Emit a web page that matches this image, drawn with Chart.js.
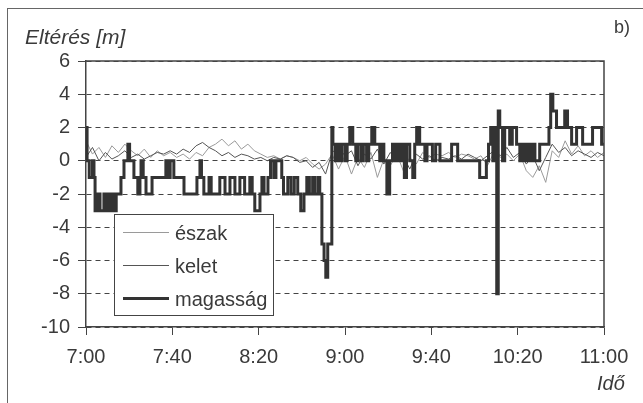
<!DOCTYPE html>
<html>
<head>
<meta charset="utf-8">
<script src="https://cdn.jsdelivr.net/npm/chart.js@4/dist/chart.umd.min.js"></script>
<style>
	body { margin: 0; background: #fff; }
	#wrap { position: relative; width: 643px; height: 403px; overflow: hidden; font-family: "Liberation Sans", Arial, sans-serif; color: #3a3a3a; }
	#frame { position: absolute; left: 7px; top: 8px; width: 700px; height: 420px; border-top: 1px solid #666; border-left: 1px solid #666; }
	.lbl { position: absolute; white-space: nowrap; line-height: 1; }
	#legend { position: absolute; left: 114px; top: 214px; width: 158px; height: 100px; border: 1px solid #444; background: #fff; }
	.row { position: absolute; left: 0; height: 24px; font-size: 20px; line-height: 24px; }
	.row span.ln { position: absolute; left: 8px; width: 46px; }
	.row span.tx { position: absolute; left: 60px; }
</style>
</head>
<body>
<div id="wrap">
	<div id="frame"></div>
	<canvas id="chart" width="643" height="403"></canvas>
	<div class="lbl" style="left:25px; top:26px; font-size:21px; font-style:italic;">Eltérés [m]</div>
	<div class="lbl" style="left:597px; top:373px; font-size:20px; font-style:italic;">Idő</div>
	<div class="lbl" style="left:614px; top:18px; font-size:18px;">b)</div>
	<div id="legend">
		<div class="row" style="top:6px;"><span class="ln" style="top:11px; border-top:1px solid #9a9a9a;"></span><span class="tx">észak</span></div>
		<div class="row" style="top:39px;"><span class="ln" style="top:11px; border-top:1px solid #555;"></span><span class="tx">kelet</span></div>
		<div class="row" style="top:72px;"><span class="ln" style="top:10px; border-top:3px solid #333;"></span><span class="tx">magasság</span></div>
	</div>
</div>
<script>
// minutes after 7:00
const thinTimes = [0, 3, 6, 9, 12, 15, 18, 21, 24, 27, 30, 33, 36, 39, 42, 45, 48, 51, 54, 57,
	60, 63, 66, 69, 72, 75, 78, 81, 84, 87, 90, 93, 96, 99, 102, 105, 108, 111, 114, 117,
	120, 123, 126, 129, 132, 135, 138, 141, 144, 147, 150, 153, 156, 159, 162, 165, 168, 171, 174, 177,
	180, 183, 186, 189, 192, 195, 198, 201, 204, 207, 210, 213, 216, 219, 222, 225, 228, 231, 234, 237, 240];

const eszak = [1.2, 0.4, 0.8, 0.2, 0.9, 0.5, 1.0, 0.6, 0.3, 0.7, 0.2, 0.6, 0.3, 0.5, 0.2, 0.4, 0.1, 0.5, 0.3, 0.8,
	1.0, 1.3, 0.9, 1.2, 0.7, 1.0, 0.6, 0.4, 0.2, 0.3, 0.1, 0.3, 0.2, 0.0, 0.2, -0.2, -0.5, -0.2, 0.4, -0.5,
	0.3, -0.8, 0.2, -0.4, 0.5, -1.0, 0.1, -0.3, 0.4, -0.6, 0.2, -0.2, 0.5, 0.2, 0.4, 0.3, 0.5, 0.2, 0.4, 0.3,
	0.1, 0.3, -0.3, 0.5, 0.2, 0.4, 0.0, 0.4, -0.6, -1.0, -0.3, -1.3, 0.6, 0.2, 1.2, 0.4, 0.9, 0.3, 0.6, 0.2, 0.5];

const kelet = [0.2, 0.8, 0.0, 0.5, 0.1, 0.3, 0.6, 0.2, 0.4, 0.1, 0.3, 0.5, 0.4, 0.6, 0.4, 0.7, 0.5, 0.9, 1.1, 0.8,
	0.6, 0.3, 0.5, 0.2, 0.4, 0.3, 0.1, 0.2, 0.0, 0.2, 0.1, 0.3, 0.2, -0.1, 0.0, -0.4, -0.1, -0.8, 0.5, 0.8,
	0.3, 0.6, -0.3, 0.4, 0.1, 0.7, -0.2, 0.5, 0.0, 0.3, -0.5, 0.4, 0.1, 0.3, 0.0, 0.2, 0.1, 0.3, 0.1, 0.4,
	0.2, 0.0, 0.3, 0.6, 0.3, 0.8, 0.2, 0.5, -0.2, 0.3, -0.6, 0.2, 1.0, 0.5, 0.8, 0.3, 0.6, 0.4, 0.2, 0.5, 0.3];

// magassag is a step series: value holds from its time until the next one
const magTimes = [0, 0.5, 1.5, 3, 3.7, 4.2, 5.5, 6.5, 8.3, 9, 10, 11, 12, 13.4, 14, 16.2, 17.6, 19.4, 20.2, 22.2,
	24, 25, 25.5, 26.5, 27.8, 30.6, 37, 38, 39, 40.7, 45.4, 51.4, 52.8, 53.5, 54.6, 57, 58, 62, 64.4, 66.7,
	69, 71.3, 73.5, 75.9, 77, 78.2, 80.6, 81.5, 82.5, 84.3, 85.5, 87, 88, 90.7, 91.5, 93.5, 95, 96.5, 98.1, 99.5,
	101, 102.3, 103.5, 105, 106, 107.5, 108.3, 109.3, 110.3, 111.1, 112, 113.9, 114.4, 115.5, 116.5, 117.6, 118.5, 120, 121, 122.2,
	123.6, 125, 126, 127.5, 128.5, 130, 131, 132.4, 133.8, 136.1, 137, 138, 139.4, 140.7, 142, 143, 144, 145.4, 146.5, 147.5,
	148.5, 150, 151.4, 152.3, 153.2, 154.6, 157, 158, 160.5, 162, 164, 169.4, 172.2, 182.4, 185.5, 186.5, 187.5, 188.5, 189.4, 190.3,
	191, 191.7, 193, 194, 196.3, 197.5, 199.5, 201, 202, 203.2, 204.5, 205.6, 207, 208, 210.2, 214.5, 215.3, 216.3, 218, 221.8,
	223.1, 225, 227.3, 230.1, 234.7, 238.9, 240];
const magassag = [2, 0, -1, 0, -1, -3, -2, -3, -2, -3, -2, -3, -2, -3, -2, -1, 0, 1, 0, -1,
	-2, -1, 0, -1, -2, -1, 0, -1, 0, -1, -2, -1, 0, -1, -2, -1, -2, -1, -2, -1,
	-2, -1, -2, -1, -2, -3, -2, -1, -2, -1, 0, -1, 0, -1, -2, -1, -2, -1, -2, -3,
	-2, -1, -2, -1, -2, -1, -2, -5, -6, -7, -5, 2, 1, 0, 1, 0, 1, 0, 1, 2,
	1, 0, 1, 0, 1, 0, 1, 2, 1, 0, 1, 0, -2, 0, 1, 0, 1, 0, 1, -1,
	1, 0, -1, 1, 2, 1, 0, 1, 0, 1, 0, 1, 0, -1, 0, 1, 2, 0, 2, -8,
	3, 2, 0, 2, 1, 2, 1, 0, 1, 0, 1, 0, 1, 0, 1, 2, 4, 3, 2, 3,
	2, 1, 2, 1, 2, 1, 1];

const yTicks = [6, 4, 2, 0, -2, -4, -6, -8, -10];

function pts(times, vals) {
	return times.map(function (t, i) { return {x: t, y: vals[i]}; });
}

function hhmm(m) {
	let h = 7 + Math.floor(m / 60), mm = m % 60;
	return h + ":" + (mm < 10 ? "0" : "") + mm;
}

const boxPlugin = {
	id: "box",
	afterDatasetsDraw: function (chart) {
		const a = chart.chartArea, ctx = chart.ctx;
		ctx.save();
		ctx.strokeStyle = "#444";
		ctx.lineWidth = 1.5;
		ctx.beginPath();
		ctx.moveTo(a.left, a.top);
		ctx.lineTo(a.right, a.top);
		ctx.lineTo(a.right, a.bottom);
		ctx.stroke();
		ctx.restore();
	}
};

const font = {family: "'Liberation Sans', Arial, sans-serif", size: 20};

new Chart(document.getElementById("chart").getContext("2d"), {
	type: "line",
	data: {
		datasets: [
			{
				label: "magasság",
				data: pts(magTimes, magassag),
				borderColor: "#333",
				borderWidth: 3,
				stepped: true,
				pointRadius: 0,
				order: 0
			}, {
				label: "kelet",
				data: pts(thinTimes, kelet),
				borderColor: "#555",
				borderWidth: 1,
				pointRadius: 0,
				tension: 0,
				order: 1
			}, {
				label: "észak",
				data: pts(thinTimes, eszak),
				borderColor: "#9a9a9a",
				borderWidth: 1,
				pointRadius: 0,
				tension: 0,
				order: 2
			}
		]
	},
	options: {
		responsive: false,
		animation: false,
		layout: {padding: {left: 0, top: 61, right: 39, bottom: 0}},
		plugins: {legend: {display: false}, tooltip: {enabled: false}},
		scales: {
			x: {
				type: "linear",
				min: 0,
				max: 240,
				afterFit: function (s) { s.height = 76; },
				afterBuildTicks: function (s) {
					s.ticks = [0, 40, 80, 120, 160, 200, 240].map(function (v) { return {value: v}; });
				},
				ticks: {
					callback: function (v) { return hhmm(v); },
					color: "#3a3a3a",
					font: font,
					padding: 10,
					maxRotation: 0
				},
				grid: {drawOnChartArea: false, drawTicks: true, tickLength: 8, color: "#444"},
				border: {display: true, color: "#444", width: 1.5}
			},
			y: {
				min: -10,
				max: 6,
				afterFit: function (s) { s.width = 86; },
				afterBuildTicks: function (s) {
					s.ticks = yTicks.map(function (v) { return {value: v}; });
				},
				ticks: {color: "#3a3a3a", font: font, padding: 8},
				grid: {color: "#444", lineWidth: 1, drawTicks: true, tickLength: 8, tickColor: "#444"},
				border: {display: true, color: "#444", width: 1.5, dash: [5, 4]}
			}
		}
	},
	plugins: [boxPlugin]
});
</script>
</body>
</html>
